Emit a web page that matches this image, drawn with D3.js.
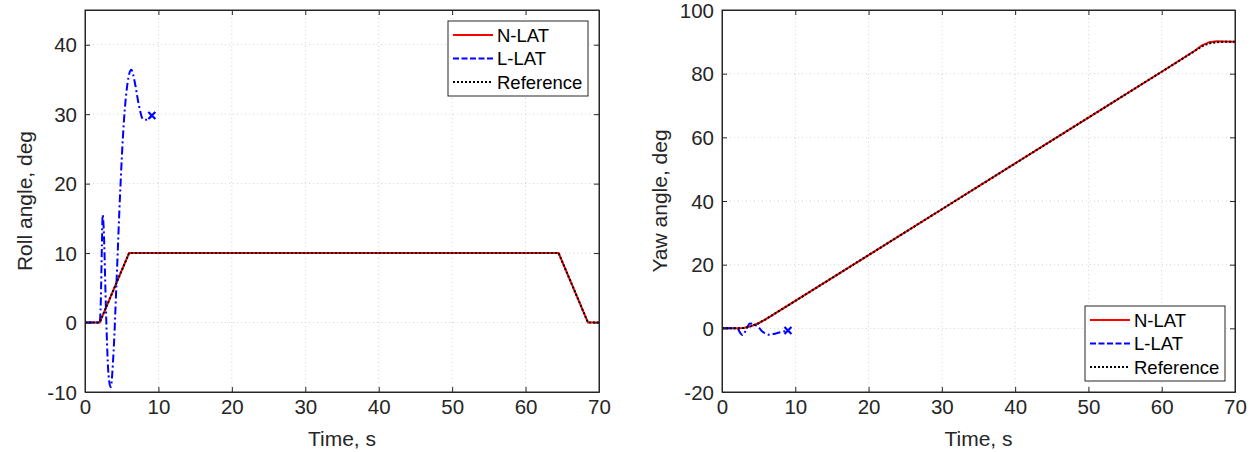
<!DOCTYPE html>
<html>
<head>
<meta charset="utf-8">
<script src="https://cdn.jsdelivr.net/npm/d3@7/dist/d3.min.js"></script>
<style>
  body { margin: 0; background: #fff; }
  svg { display: block; font-family: "Liberation Sans", Arial, Helvetica, sans-serif; }
</style>
</head>
<body>
<svg id="chart" width="1258" height="452"></svg>
<script>
// ---- Roll angle, deg (left panel) ----
const rollRefT   = [0, 2.0, 6.0, 64.5, 68.5, 70];
const rollRefV   = [0, 0, 10, 10, 0, 0];
const rollNlatT  = [0, 2.0, 6.0, 64.5, 68.5, 70];
const rollNlatV  = [0, 0, 10, 10, 0, 0];
const rollLlatT  = [0, 2.0, 2.15, 2.3, 2.4, 2.47, 2.6, 2.8, 3.0, 3.2, 3.5, 3.9, 4.3, 4.8, 5.3, 5.8, 6.3, 6.8, 7.3, 7.9, 8.4, 9.1];
const rollLlatV  = [0, 0, 3, 11, 15.5, 15.0, 12, 4, -3, -7.5, -9.3, -4, 6, 19, 29, 34.5, 36.4, 34.5, 31.5, 29.3, 29.2, 29.8];

// ---- Yaw angle, deg (right panel) ----
const yawRefT  = [0, 2, 3, 4, 5, 6, 10, 20, 30, 40, 50, 60, 64.5, 65.5, 66.5, 67.5, 68.5, 70];
const yawRefV  = [0, 0, 0.1, 0.7, 1.6, 2.9, 8.6, 23.0, 37.4, 51.8, 66.2, 80.6, 87.1, 88.6, 89.5, 89.9, 90, 90];
const yawNlatT = [0, 2, 3, 4, 5, 6, 10, 20, 30, 40, 50, 60, 64.5, 65.5, 66.5, 67.5, 68.5, 70];
const yawNlatV = [0, 0, 0.1, 0.7, 1.6, 2.9, 8.6, 23.0, 37.4, 51.8, 66.2, 80.6, 87.2, 88.9, 89.9, 90.2, 90.1, 90];
const yawLlatT = [0, 2.0, 2.2, 2.5, 2.8, 3.3, 3.8, 4.4, 5.0, 5.5, 5.9, 6.5, 7.0, 8.0, 9.0];
const yawLlatV = [0, 0, -0.3, -1.5, -2.1, -0.5, 1.5, 1.2, 0.3, -1.0, -1.6, -2.0, -1.8, -1.2, -0.7];

const xTicks = [0, 10, 20, 30, 40, 50, 60, 70];
const rollTicks = [-10, 0, 10, 20, 30, 40];
const yawTicks = [-20, 0, 20, 40, 60, 80, 100];

const legendNames = ["N-LAT", "L-LAT", "Reference"];

const svg = d3.select("#chart");
const axisColor = "#262626";
const fontFam = '"Liberation Sans", Arial, sans-serif';
const plain = d => String(d);   // hyphen-minus for negative labels

const styles = {
  "N-LAT":     { stroke: "#ff0000", dash: null,      width: 2, curve: d3.curveLinear },
  "L-LAT":     { stroke: "#0000ff", dash: "8,3,2,3", width: 2, curve: d3.curveMonotoneX },
  "Reference": { stroke: "#000000", dash: "2,2",     width: 2, curve: d3.curveLinear }
};

function zip(t, v) { return t.map((d, i) => [d, v[i]]); }

function panel(opts) {
  const { left, right, top, bottom, yDomain, yTicks, yLabel, series, legendBox, yLabelX } = opts;
  const x = d3.scaleLinear().domain([0, 70]).range([left, right]);
  const y = d3.scaleLinear().domain(yDomain).range([bottom, top]);
  const g = svg.append("g");

  // dotted grid
  const grid = g.append("g").attr("stroke", "#d4d4d4").attr("stroke-width", 1).attr("stroke-dasharray", "1,3");
  xTicks.slice(1, -1).forEach(t => grid.append("line")
    .attr("x1", x(t)).attr("x2", x(t)).attr("y1", top).attr("y2", bottom));
  yTicks.forEach(t => { if (y(t) > top + 1 && y(t) < bottom - 1) grid.append("line")
    .attr("x1", left).attr("x2", right).attr("y1", y(t)).attr("y2", y(t)); });

  // data lines
  const clipId = "clip" + left;
  svg.append("clipPath").attr("id", clipId).append("rect")
    .attr("x", left).attr("y", top).attr("width", right - left).attr("height", bottom - top);
  const lines = g.append("g").attr("clip-path", `url(#${clipId})`);
  series.forEach(s => {
    const st = styles[s.name];
    const line = d3.line().x(d => x(d[0])).y(d => y(d[1])).curve(st.curve);
    lines.append("path").datum(zip(s.t, s.v))
      .attr("fill", "none").attr("stroke", st.stroke).attr("stroke-width", st.width)
      .attr("stroke-dasharray", st.dash).attr("d", line);
    if (s.marker) {
      const last = [s.t[s.t.length - 1], s.v[s.v.length - 1]];
      const cx = x(last[0]), cy = y(last[1]), r = 3.5;
      lines.append("path")
        .attr("d", `M${cx - r},${cy - r}L${cx + r},${cy + r}M${cx - r},${cy + r}L${cx + r},${cy - r}`)
        .attr("stroke", st.stroke).attr("stroke-width", 2.2).attr("fill", "none");
    }
  });

  // axes (box with inward ticks on all sides)
  const xb = d3.axisBottom(x).tickValues(xTicks).tickFormat(plain).tickSizeInner(-5).tickSizeOuter(0).tickPadding(8);
  const xt = d3.axisTop(x).tickValues(xTicks).tickSizeInner(-5).tickSizeOuter(0).tickFormat("");
  const yl = d3.axisLeft(y).tickValues(yTicks).tickFormat(plain).tickSizeInner(-5).tickSizeOuter(0).tickPadding(8);
  const yr = d3.axisRight(y).tickValues(yTicks).tickSizeInner(-5).tickSizeOuter(0).tickFormat("");
  const ax = [
    g.append("g").attr("transform", `translate(0,${bottom})`).call(xb),
    g.append("g").attr("transform", `translate(0,${top})`).call(xt),
    g.append("g").attr("transform", `translate(${left},0)`).call(yl),
    g.append("g").attr("transform", `translate(${right},0)`).call(yr)
  ];
  ax.forEach(a => {
    a.attr("font-size", null).attr("font-family", null);
    a.select(".domain").attr("stroke", axisColor).attr("stroke-width", 1);
    a.selectAll(".tick line").attr("stroke", axisColor);
    a.selectAll("text").attr("fill", axisColor).style("font-size", "20.5px").style("font-family", fontFam);
  });
  ax[2].selectAll("text").attr("dy", "0.35em");
  ax[0].selectAll("text").attr("dy", "0.7em");
  g.append("rect").attr("x", left).attr("y", top).attr("width", right - left).attr("height", bottom - top)
    .attr("fill", "none").attr("stroke", axisColor).attr("stroke-width", 1);

  // axis titles
  g.append("text").attr("x", (left + right) / 2).attr("y", 446)
    .attr("text-anchor", "middle").attr("fill", axisColor)
    .style("font-size", "21px").style("font-family", fontFam).text("Time, s");
  g.append("text").attr("transform", `translate(${yLabelX},${(top + bottom) / 2}) rotate(-90)`)
    .attr("text-anchor", "middle").attr("fill", axisColor)
    .style("font-size", "21px").style("font-family", fontFam).text(yLabel);

  // legend
  const lg = g.append("g");
  lg.append("rect").attr("x", legendBox.x).attr("y", legendBox.y)
    .attr("width", legendBox.w).attr("height", legendBox.h)
    .attr("fill", "#fff").attr("stroke", axisColor).attr("stroke-width", 1);
  legendNames.forEach((n, i) => {
    const st = styles[n];
    const cy = legendBox.y + 14 + i * 23.5;
    lg.append("line").attr("x1", legendBox.x + 5).attr("x2", legendBox.x + 45)
      .attr("y1", cy).attr("y2", cy).attr("stroke", st.stroke).attr("stroke-width", st.width)
      .attr("stroke-dasharray", n === "L-LAT" ? "6,2.5" : st.dash);
    lg.append("text").attr("x", legendBox.x + 49).attr("y", cy).attr("dy", "0.36em")
      .attr("fill", "#000").style("font-size", "18.5px").style("font-family", fontFam).text(n);
  });
}

panel({
  left: 85, right: 599, top: 10, bottom: 392,
  yDomain: [-10, 45], yTicks: rollTicks, yLabel: "Roll angle, deg", yLabelX: 32,
  legendBox: { x: 448, y: 21, w: 140, h: 75 },
  series: [
    { name: "N-LAT", t: rollNlatT, v: rollNlatV },
    { name: "L-LAT", t: rollLlatT, v: rollLlatV, marker: true },
    { name: "Reference", t: rollRefT, v: rollRefV }
  ]
});

panel({
  left: 722, right: 1235, top: 10, bottom: 392,
  yDomain: [-20, 100], yTicks: yawTicks, yLabel: "Yaw angle, deg", yLabelX: 667,
  legendBox: { x: 1085, y: 306, w: 140, h: 75 },
  series: [
    { name: "N-LAT", t: yawNlatT, v: yawNlatV },
    { name: "L-LAT", t: yawLlatT, v: yawLlatV, marker: true },
    { name: "Reference", t: yawRefT, v: yawRefV }
  ]
});
</script>
</body>
</html>
